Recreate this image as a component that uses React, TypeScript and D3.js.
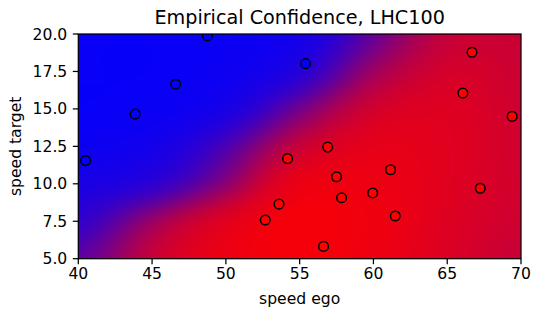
import React, { useEffect, useRef } from "react";
import * as d3 from "d3";

// ---- data ----
const blueX = [40.5, 43.85, 46.6, 48.75, 55.4];
const blueY = [11.55, 14.65, 16.65, 19.87, 18.02];
const redX = [66.68, 66.06, 69.4, 54.18, 56.9, 57.5, 61.16, 53.6, 52.67, 57.84, 59.95, 61.48, 67.24, 56.62];
const redY = [18.78, 16.05, 14.5, 11.68, 12.45, 10.47, 10.94, 8.64, 7.58, 9.07, 9.39, 7.85, 9.7, 5.82];
const xTicks = [40, 45, 50, 55, 60, 65, 70];
const yTicks = [5, 7.5, 10, 12.5, 15, 17.5, 20];
// confidence surface sampled at the grid (x = gridX, y = gridY), rows from top (y=20) to bottom (y=5)
const gridX = [40, 45, 50, 55, 60, 65, 70];
const gridY = [20, 17.5, 15, 12.5, 10, 7.5, 5];
const conf20 = [0.03, 0.03, 0.04, 0.08, 0.40, 0.77, 0.79];
const conf175 = [0.03, 0.03, 0.05, 0.15, 0.62, 0.83, 0.80];
const conf15 = [0.03, 0.04, 0.10, 0.45, 0.82, 0.87, 0.81];
const conf125 = [0.05, 0.08, 0.30, 0.78, 0.90, 0.88, 0.82];
const conf10 = [0.10, 0.18, 0.55, 0.92, 0.93, 0.88, 0.82];
const conf75 = [0.20, 0.60, 0.88, 0.96, 0.94, 0.87, 0.81];
const conf5 = [0.37, 0.78, 0.93, 0.96, 0.93, 0.86, 0.78];
const confRows = [conf20, conf175, conf15, conf125, conf10, conf75, conf5];
const title = "Empirical Confidence, LHC100";
const xLabel = "speed ego";
const yLabel = "speed target";

const W = 534, H = 309;
const L = 78.3, R = 521, T = 34, B = 258.7;
const FONT = "DejaVu Sans, sans-serif";

function cr(p0: number, p1: number, p2: number, p3: number, t: number) {
  return 0.5 * (2 * p1 + (-p0 + p2) * t + (2 * p0 - 5 * p1 + 4 * p2 - p3) * t * t + (-p0 + 3 * p1 - 3 * p2 + p3) * t * t * t);
}

export default function App() {
  const x = d3.scaleLinear().domain([40, 70]).range([L, R]);
  const y = d3.scaleLinear().domain([5, 20]).range([B, T]);
  const imgRef = useRef<SVGImageElement>(null);

  useEffect(() => {
    const logit = (p: number) => Math.log(p / (1 - p));
    const G = confRows.map((r) => r.map(logit));
    const nr = G.length, nc = G[0].length;
    const g = (r: number, c: number) => G[Math.max(0, Math.min(nr - 1, r))][Math.max(0, Math.min(nc - 1, c))];
    const gx = d3.scaleLinear().domain([gridX[0], gridX[nc - 1]]).range([0, nc - 1]);
    const gy = d3.scaleLinear().domain([gridY[0], gridY[nr - 1]]).range([0, nr - 1]);
    const w = Math.round(R - L), h = Math.round(B - T);
    const c = document.createElement("canvas");
    c.width = w; c.height = h;
    const ctx = c.getContext("2d")!;
    const im = ctx.createImageData(w, h);
    for (let j = 0; j < h; j++) {
      const dy = y.invert(T + (j + 0.5) * (B - T) / h);
      const fr = gy(dy);
      const r0 = Math.min(nr - 2, Math.floor(fr)), tr = fr - r0;
      for (let i = 0; i < w; i++) {
        const dx = x.invert(L + (i + 0.5) * (R - L) / w);
        const fc = gx(dx);
        const c0 = Math.min(nc - 2, Math.floor(fc)), tc = fc - c0;
        const rowv = [-1, 0, 1, 2].map((o) =>
          cr(g(r0 + o, c0 - 1), g(r0 + o, c0), g(r0 + o, c0 + 1), g(r0 + o, c0 + 2), tc)
        );
        const z = cr(rowv[0], rowv[1], rowv[2], rowv[3], tr);
        const p = 1 / (1 + Math.exp(-z));
        const o = (j * w + i) * 4;
        im.data[o] = 255 * p;
        im.data[o + 1] = 0;
        im.data[o + 2] = 255 * (1 - p);
        im.data[o + 3] = 255;
      }
    }
    ctx.putImageData(im, 0, 0);
    imgRef.current?.setAttribute("href", c.toDataURL());
  }, []);

  const tickLen = 5.5;
  return (
    <svg width={W} height={H} style={{ position: "absolute", left: 0, top: 0 }} fontFamily={FONT}>
      <rect width={W} height={H} fill="white" />
      <defs>
        <clipPath id="plot"><rect x={L} y={T} width={R - L} height={B - T} /></clipPath>
      </defs>
      <image ref={imgRef} x={L} y={T} width={R - L} height={B - T} preserveAspectRatio="none" />
      <g clipPath="url(#plot)">
        {blueX.map((v, i) => (
          <circle key={"b" + i} cx={x(v)} cy={y(blueY[i])} r={4.8} fill="#0000ff" stroke="black" strokeWidth={1.5} />
        ))}
        {redX.map((v, i) => (
          <circle key={"r" + i} cx={x(v)} cy={y(redY[i])} r={4.8} fill="#ff0000" stroke="black" strokeWidth={1.5} />
        ))}
      </g>
      <rect x={L} y={T} width={R - L} height={B - T} fill="none" stroke="black" strokeWidth={1.25} />
      {xTicks.map((t) => (
        <g key={"x" + t}>
          <line x1={x(t)} x2={x(t)} y1={B} y2={B + tickLen} stroke="black" strokeWidth={1.25} />
          <text x={x(t)} y={B + 20} textAnchor="middle" fontSize={15.6} fill="black">{t}</text>
        </g>
      ))}
      {yTicks.map((t) => (
        <g key={"y" + t}>
          <line x1={L - tickLen} x2={L} y1={y(t)} y2={y(t)} stroke="black" strokeWidth={1.25} />
          <text x={L - 11} y={y(t) + 5.5} textAnchor="end" fontSize={15.6} fill="black">{d3.format(".1f")(t)}</text>
        </g>
      ))}
      <text x={(L + R) / 2} y={304} textAnchor="middle" fontSize={15.6} fill="black">{xLabel}</text>
      <text transform={`translate(21,${(T + B) / 2}) rotate(-90)`} textAnchor="middle" fontSize={15.6} fill="black">{yLabel}</text>
      <text x={(L + R) / 2} y={24} textAnchor="middle" fontSize={19.2} fill="black">{title}</text>
    </svg>
  );
}
